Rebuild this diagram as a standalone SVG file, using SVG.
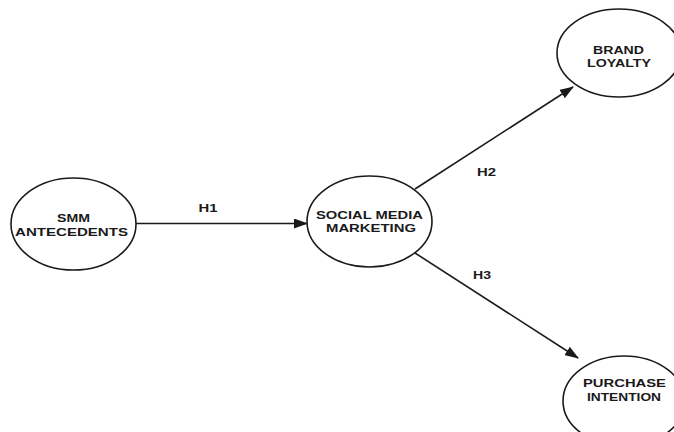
<svg xmlns="http://www.w3.org/2000/svg" width="674" height="432" viewBox="0 0 674 432">
<defs>
<style>
.node ellipse{fill:#fff;stroke:#1a1a1a;stroke-width:1.6}
.node text,.lbl{font-family:"Liberation Sans",Arial,sans-serif;font-weight:bold;font-size:10.5px;fill:#1a1a1a;text-anchor:middle}
.edge{stroke:#1a1a1a;stroke-width:1.6;fill:none;marker-end:url(#arr)}
</style>
<marker id="arr" markerUnits="userSpaceOnUse" markerWidth="14" markerHeight="10" refX="13" refY="5" orient="auto">
<path d="M0,0 L14,5 L0,10 z" fill="#1a1a1a"/>
</marker>
</defs>
<rect width="674" height="432" fill="#fff"/>
<g id="connectors">
<line class="edge" x1="136" y1="223.5" x2="307" y2="223.5"/>
<line class="edge" x1="415" y1="189" x2="573" y2="87"/>
<line class="edge" x1="415" y1="253" x2="578" y2="358"/>
<text class="lbl" x="208" y="212" textLength="19" lengthAdjust="spacingAndGlyphs">H1</text>
<text class="lbl" x="486.5" y="176" textLength="19" lengthAdjust="spacingAndGlyphs">H2</text>
<text class="lbl" x="482" y="279" textLength="18" lengthAdjust="spacingAndGlyphs">H3</text>
</g>
<g id="smm" class="node">
<ellipse cx="73.5" cy="224" rx="62.5" ry="46"/>
<text x="73.5" y="222" textLength="33" lengthAdjust="spacingAndGlyphs">SMM</text>
<text x="71.5" y="236" textLength="113" lengthAdjust="spacingAndGlyphs">ANTECEDENTS</text>
</g>
<g id="smmk" class="node">
<ellipse cx="369.5" cy="221.5" rx="62.5" ry="45.5"/>
<text x="369.5" y="218.5" textLength="107" lengthAdjust="spacingAndGlyphs">SOCIAL MEDIA</text>
<text x="371" y="232" textLength="90" lengthAdjust="spacingAndGlyphs">MARKETING</text>
</g>
<g id="brand" class="node">
<ellipse cx="619" cy="53" rx="62" ry="44"/>
<text x="618.5" y="54" textLength="51" lengthAdjust="spacingAndGlyphs">BRAND</text>
<text x="619" y="67" textLength="64" lengthAdjust="spacingAndGlyphs">LOYALTY</text>
</g>
<g id="purchase" class="node">
<ellipse cx="624" cy="401" rx="61" ry="45"/>
<text x="624.5" y="387" textLength="83" lengthAdjust="spacingAndGlyphs">PURCHASE</text>
<text x="624" y="401" textLength="74" lengthAdjust="spacingAndGlyphs">INTENTION</text>
</g>
</svg>
